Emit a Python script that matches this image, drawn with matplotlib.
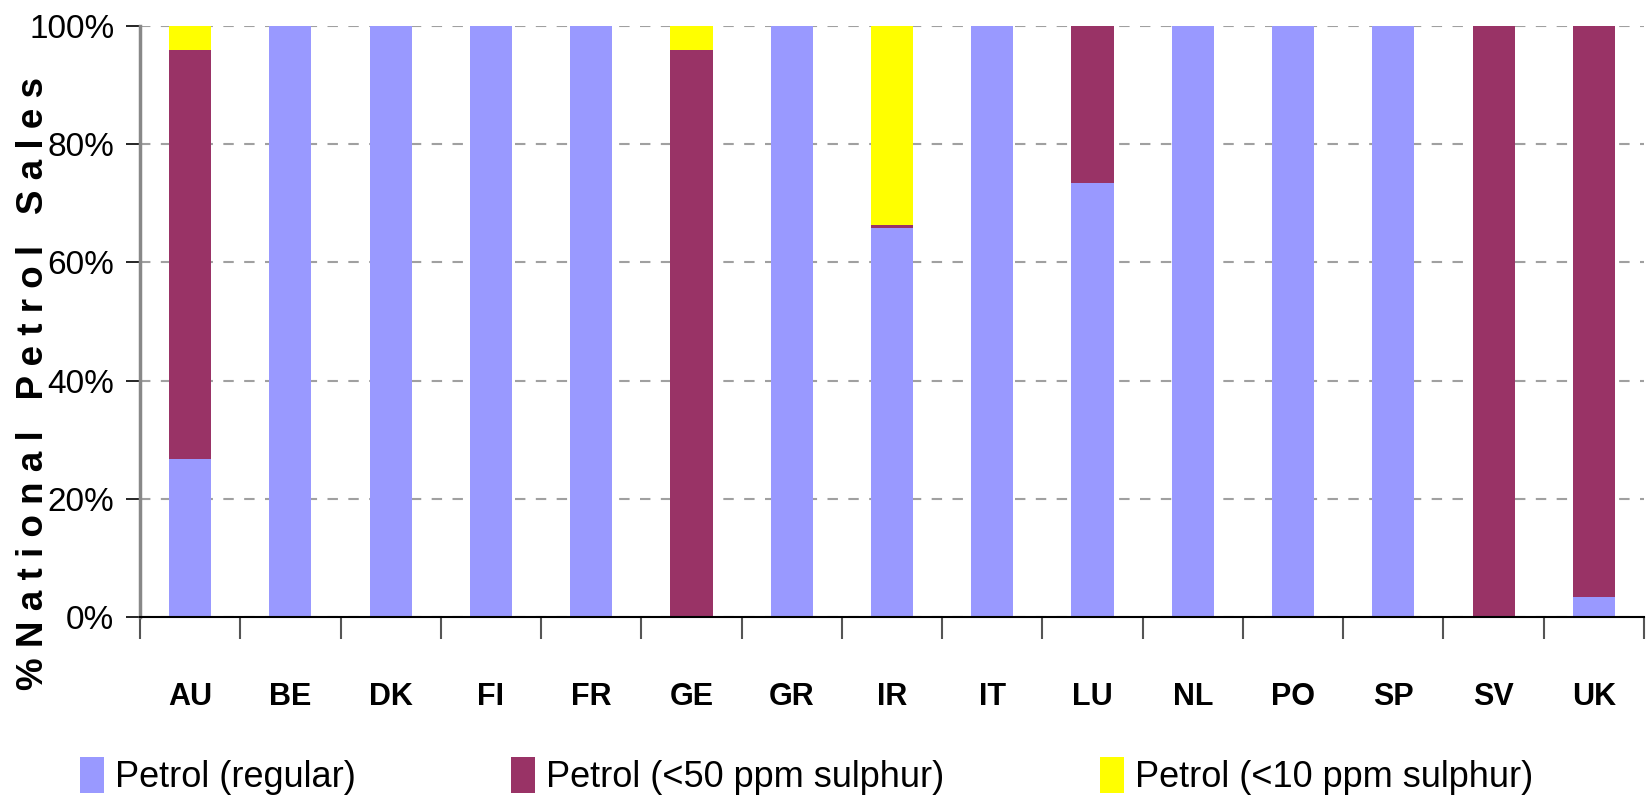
import matplotlib
matplotlib.use("Agg")
import matplotlib.pyplot as plt
import numpy as np

# Parts de ventes nationales d'essence par pays
pays = ["AU", "BE", "DK", "FI", "FR", "GE", "GR", "IR", "IT", "LU",
        "NL", "PO", "SP", "SV", "UK"]
regular = [0.267, 1.0, 1.0, 1.0, 1.0, 0.0, 1.0, 0.659, 1.0, 0.735,
           1.0, 1.0, 1.0, 0.0, 0.033]
ppm50 = [0.692, 0.0, 0.0, 0.0, 0.0, 0.959, 0.0, 0.004, 0.0, 0.265,
         0.0, 0.0, 0.0, 1.0, 0.967]
ppm10 = [0.041, 0.0, 0.0, 0.0, 0.0, 0.041, 0.0, 0.337, 0.0, 0.0,
         0.0, 0.0, 0.0, 0.0, 0.0]
yticks = [0, 0.2, 0.4, 0.6, 0.8, 1.0]
ytick_labels = ["0%", "20%", "40%", "60%", "80%", "100%"]
series_labels = ["Petrol (regular)", "Petrol (<50 ppm sulphur)", "Petrol (<10 ppm sulphur)"]
colors = ["#9999FF", "#993366", "#FFFF00"]

plt.rcParams["font.family"] = ["Liberation Sans", "DejaVu Sans"]

fig = plt.figure(figsize=(16.49, 8.05), dpi=100)
ax = fig.add_axes([140 / 1649, 1 - 617 / 805, 1504 / 1649, 591 / 805])

x = np.arange(len(pays))
bottom = np.zeros(len(pays))
handles = []
for vals, col, lab in zip([regular, ppm50, ppm10], colors, series_labels):
    h = ax.bar(x, vals, width=0.42, bottom=bottom, color=col, label=lab,
               edgecolor="none", zorder=2)
    handles.append(h)
    bottom += np.array(vals)

ax.set_xlim(-0.5, len(pays) - 0.5)
ax.set_ylim(0, 1)

# axe Y
ax.set_yticks(yticks)
ax.set_yticklabels(ytick_labels, fontsize=24)
ax.tick_params(axis="y", direction="out", length=10, width=1.2, color="black", pad=8.5)
ax.yaxis.grid(True, color="#a0a0a0", linestyle=(0, (5, 5)), linewidth=1.5)
ax.set_axisbelow(True)

# axe X : labels au centre, traits entre les catégories
ax.set_xticks(x)
ax.set_xticklabels(pays, fontsize=22, fontweight="bold")
ax.tick_params(axis="x", which="major", length=0, pad=47)
ax.set_xticks(np.arange(-0.5, len(pays)), minor=True)
ax.tick_params(axis="x", which="minor", direction="out", length=16, width=1.5, color="#555555")

for s in ["top", "right"]:
    ax.spines[s].set_visible(False)
ax.spines["left"].set_color("#888888")
ax.spines["left"].set_linewidth(2.5)
ax.spines["bottom"].set_color("black")
ax.spines["bottom"].set_linewidth(1.5)

fig.text(34 / 1649, 1 - 384 / 805,
         "% N a t i o n a l   P e t r o l   S a l e s",
         rotation=90, ha="center", va="center", fontsize=26.5, fontweight="bold")

fig.legend(handles=handles, labels=series_labels, loc="center left",
           bbox_to_anchor=(80 / 1649, 1 - 776 / 805), ncol=3, frameon=False,
           fontsize=26, handlelength=0.67, handleheight=1.15, handletextpad=0.3,
           columnspacing=4.3, borderpad=0, borderaxespad=0)

fig.savefig("out.png", dpi=100)
